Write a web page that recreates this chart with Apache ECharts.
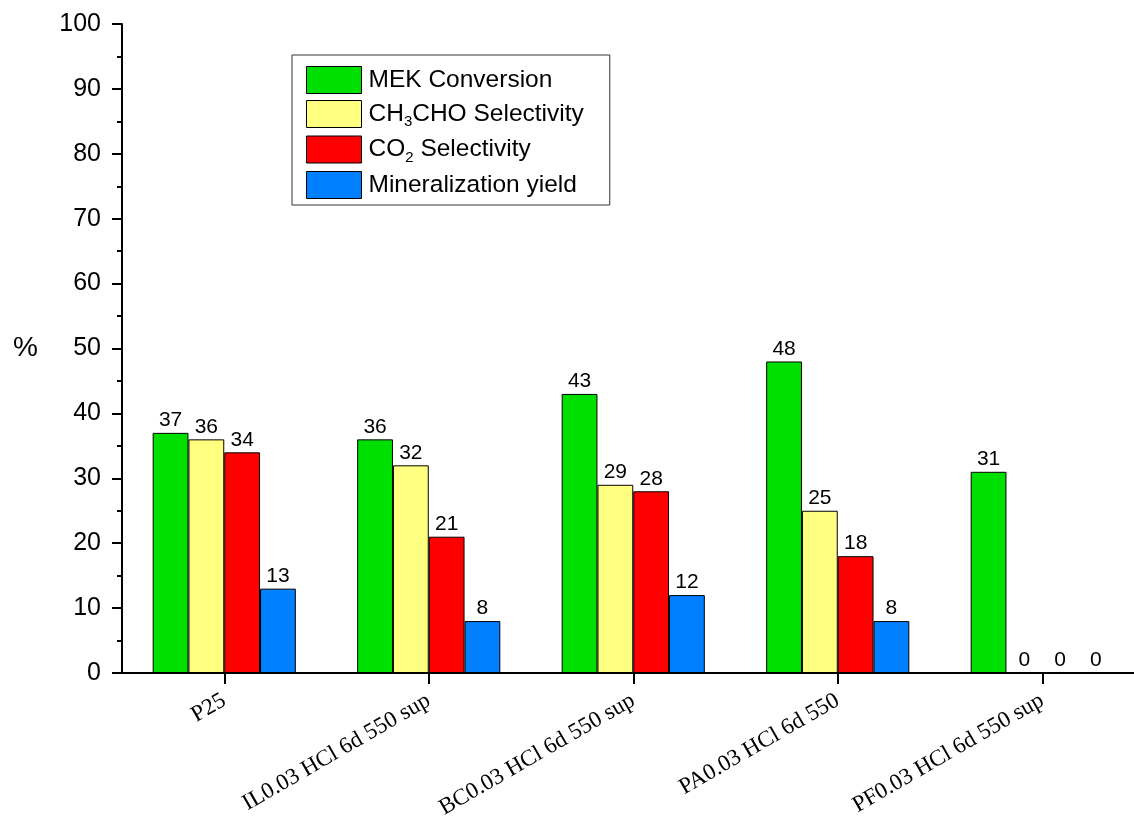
<!DOCTYPE html>
<html>
<head>
<meta charset="utf-8">
<script src="https://cdn.jsdelivr.net/npm/echarts@6/dist/echarts.min.js"></script>
<style>html,body{margin:0;padding:0;background:#fff;}#c{width:1134px;height:818px;}</style>
</head>
<body>
<div id="c"></div>
<script>
const categories = ['P25', 'IL0.03 HCl 6d 550 sup', 'BC0.03 HCl 6d 550 sup', 'PA0.03 HCl 6d 550', 'PF0.03 HCl 6d 550 sup'];
const mekConversion = [37, 36, 43, 48, 31];
const ch3choSelectivity = [36, 32, 29, 25, 0];
const co2Selectivity = [34, 21, 28, 18, 0];
const mineralizationYield = [13, 8, 12, 8, 0];
const seriesNames = ['MEK Conversion', 'CH3CHO Selectivity', 'CO2 Selectivity', 'Mineralization yield'];
const colors = ['#00e000', '#ffff80', '#ff0000', '#0080ff'];

const chart = echarts.init(document.getElementById('c'), null, {renderer: 'canvas'});
const labelStyle = {show: true, position: 'top', distance: 2, color: '#000', fontFamily: 'Arial, Liberation Sans', fontSize: 21};
function mk(name, data, color) {
  return {
    name: name, type: 'bar', data: data, barGap: '0%', barCategoryGap: '30%', clip: false,
    itemStyle: {color: color, borderColor: '#000', borderWidth: 1},
    label: labelStyle
  };
}
chart.setOption({
  animation: false,
  backgroundColor: '#fff',
  grid: {left: 122, top: 24, width: 1022.5, height: 649, containLabel: false, outerBoundsMode: 'none'},
  legend: {
    orient: 'vertical', left: 292, top: 55,
    padding: [11, 26, 6, 14],
    itemWidth: 55, itemHeight: 27, itemGap: 6,
    icon: 'rect',
    borderColor: '#333', borderWidth: 1,
    data: seriesNames,
    formatter: function (n) {
      if (n === 'CH3CHO Selectivity') return 'CH{s|3}CHO Selectivity';
      if (n === 'CO2 Selectivity') return 'CO{s|2} Selectivity';
      return n;
    },
    textStyle: {
      fontFamily: 'Arial, Liberation Sans', fontSize: 24.5, color: '#000', padding: [0, 0, 0, 2],
      rich: {s: {fontSize: 15, verticalAlign: 'bottom', padding: [16, 0, 0, 0], fontFamily: 'Arial, Liberation Sans'}}
    },
    itemStyle: {borderColor: '#000', borderWidth: 1}
  },
  xAxis: {
    type: 'category', data: categories,
    axisLine: {lineStyle: {color: '#000', width: 2}},
    axisTick: {show: true, alignWithLabel: true, length: 11, inside: false, lineStyle: {color: '#000', width: 2}},
    axisLabel: {rotate: 30, margin: 26, padding: [38, 0, 0, 0], color: '#000', fontFamily: 'Liberation Serif, Times New Roman, serif', fontSize: 23, interval: 0}
  },
  yAxis: {
    type: 'value', min: 0, max: 100, interval: 10,
    name: '%', nameLocation: 'middle', nameRotate: 0, nameGap: 84,
    nameTextStyle: {fontFamily: 'Arial, Liberation Sans', fontSize: 28, color: '#000'},
    axisLine: {show: true, lineStyle: {color: '#000', width: 2}},
    axisTick: {show: true, length: 10, lineStyle: {color: '#000', width: 2}},
    minorTick: {show: true, splitNumber: 2, length: 5, lineStyle: {color: '#000', width: 2}},
    splitLine: {show: false},
    axisLabel: {color: '#000', fontFamily: 'Arial, Liberation Sans', fontSize: 25, margin: 21}
  },
  series: [
    mk(seriesNames[0], mekConversion, colors[0]),
    mk(seriesNames[1], ch3choSelectivity, colors[1]),
    mk(seriesNames[2], co2Selectivity, colors[2]),
    mk(seriesNames[3], mineralizationYield, colors[3])
  ]
});
</script>
</body>
</html>
